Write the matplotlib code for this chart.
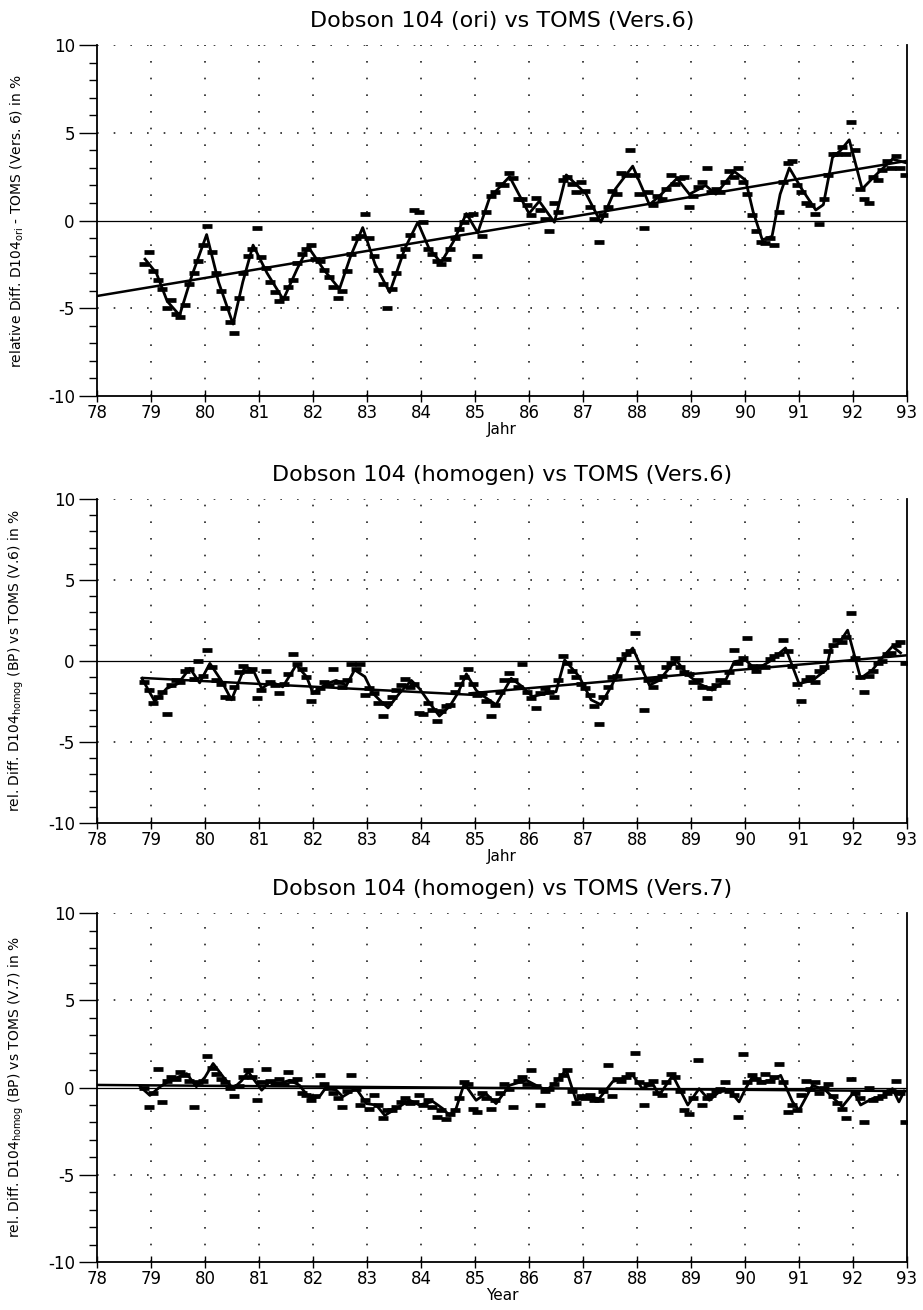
import numpy as np
import matplotlib
matplotlib.use("Agg")
import matplotlib.pyplot as plt
from matplotlib.ticker import MultipleLocator

plt.rcParams['font.family'] = ['DejaVu Sans']
plt.rcParams['axes.unicode_minus'] = False

# monthly sample times: Nov 1978 .. Dec 1992 (170 months)
n_months = 170
t0 = 78 + 10.5 / 12
months = t0 + np.arange(n_months) / 12.0

# ---- panel 1: Dobson 104 (ori) vs TOMS V6 ----
p1_dash = [
    -2.5, -1.8, -2.9, -3.4, -3.9, -5.0, -4.5, -5.3, -5.5, -4.8, -3.6, -3.0,
    -2.3, -1.4, -0.3, -1.8, -3.0, -4.0, -5.0, -5.8, -6.4, -4.4, -3.0, -2.0,
    -1.6, -0.4, -2.1, -2.7, -3.5, -4.1, -4.6, -4.4, -3.8, -3.4, -2.4, -1.9,
    -1.6, -1.4, -2.2, -2.3, -2.8, -3.2, -3.8, -4.4, -4.0, -2.9, -1.9, -1.0,
    -0.9, 0.4, -1.0, -2.0, -2.8, -3.6, -5.0, -3.9, -3.0, -2.0, -1.6, -0.8,
    0.6, 0.5, -0.1, -1.6, -1.9, -2.3, -2.5, -2.2, -1.6, -1.0, -0.5, -0.1,
    0.3, 0.4, -2.0, -0.9, 0.5, 1.4, 1.6, 2.1, 2.0, 2.7, 2.4, 1.2,
    1.2, 0.9, 0.3, 1.3, 0.6, 0.1, -0.6, 1.0, 0.5, 2.3, 2.5, 2.1,
    1.6, 2.2, 1.7, 0.8, 0.1, -1.2, 0.3, 0.8, 1.7, 1.5, 2.7, 2.6,
    4.0, 2.6, 1.5, -0.4, 1.6, 0.9, 1.4, 1.2, 1.8, 2.6, 2.1, 2.4,
    2.5, 0.8, 1.4, 1.9, 2.2, 3.0, 1.6, 1.8, 1.6, 2.2, 2.8, 2.5,
    3.0, 2.2, 1.5, 0.3, -0.6, -1.2, -1.3, -1.0, -1.4, 0.5, 2.2, 3.3,
    3.4, 2.0, 1.6, 1.0, 0.9, 0.4, -0.2, 1.2, 2.6, 3.8, 3.8, 4.2,
    3.8, 5.6, 4.0, 1.8, 1.2, 1.0, 2.5, 2.3, 2.9, 3.4, 3.0, 3.7,
    3.0, 2.6,
]
p1_smooth_x = [78.89, 79.1, 79.3, 79.53, 79.75, 80.03, 80.25, 80.52, 80.7, 80.89,
               81.15, 81.45, 81.7, 81.91, 82.2, 82.49, 82.7, 82.92, 83.15, 83.42,
               83.7, 83.94, 84.15, 84.37, 84.6, 84.84, 85.05, 85.27, 85.64, 86.0,
               86.19, 86.47, 86.69, 87.06, 87.33, 87.6, 87.92, 88.23, 88.45, 88.74,
               88.97, 89.27, 89.46, 89.8, 90.01, 90.15, 90.32, 90.5, 90.65, 90.82,
               91.05, 91.31, 91.45, 91.62, 91.77, 91.93, 92.17, 92.39, 92.73, 92.97]
p1_smooth_y = [-2.2, -3.0, -4.6, -5.4, -3.2, -0.8, -3.5, -5.9, -3.5, -1.4,
               -3.0, -4.5, -2.8, -1.5, -2.8, -3.9, -2.0, -0.4, -2.5, -4.1,
               -1.6, -0.1, -1.6, -2.4, -1.2, 0.4, -0.7, 1.3, 2.5, 0.4,
               1.1, -0.1, 2.6, 1.5, -0.1, 1.8, 3.1, 0.9, 1.5, 2.4,
               1.5, 2.0, 1.5, 2.8, 2.3, 0.5, -1.1, -0.9, 1.5, 3.0,
               1.8, 0.6, 0.9, 3.6, 4.0, 4.6, 1.8, 2.5, 3.5, 3.3]
p1_trend_x = [78.0, 93.0]
p1_trend_y = [-4.3, 3.4]

# ---- panel 2: Dobson 104 (homogen) vs TOMS V6 ----
p2_dash = [
    -1.3, -1.8, -2.6, -2.2, -1.9, -3.3, -1.5, -1.2, -1.3, -0.6, -0.5, -1.1,
    0.0, -0.9, 0.7, -0.4, -1.2, -1.4, -2.2, -2.3, -1.6, -0.7, -0.3, -0.6,
    -0.5, -2.3, -1.8, -0.6, -1.3, -1.5, -2.0, -1.4, -0.8, 0.4, -0.2, -0.5,
    -1.0, -2.5, -1.9, -1.7, -1.3, -1.5, -0.5, -1.3, -1.6, -1.2, -0.2, -0.5,
    -0.2, -2.1, -1.7, -2.0, -2.6, -3.4, -2.6, -2.2, -1.8, -1.5, -1.1, -1.6,
    -1.4, -3.2, -3.3, -2.6, -3.0, -3.7, -3.1, -2.8, -2.7, -1.9, -1.4, -1.0,
    -0.5, -1.4, -2.1, -2.0, -2.5, -3.4, -2.7, -1.9, -1.2, -0.75, -1.2, -1.6,
    -0.2, -1.9, -2.3, -2.9, -2.0, -1.7, -1.9, -2.2, -1.2, 0.3, -0.1, -0.6,
    -1.0, -1.4, -1.7, -2.1, -2.8, -3.9, -2.2, -1.6, -1.0, -0.9, 0.1, 0.4,
    0.6, 1.75, -0.4, -3.0, -1.2, -1.6, -1.1, -0.9, -0.4, -0.1, 0.2, -0.4,
    -0.7, -0.8, -1.3, -1.2, -1.6, -2.3, -1.7, -1.5, -1.2, -1.3, -0.7, 0.7,
    -0.1, 0.2, 1.4, -0.3, -0.6, -0.3, -0.4, 0.1, 0.3, 0.4, 1.3, 0.6,
    -0.3, -1.4, -2.45, -1.2, -1.0, -1.3, -0.6, -0.4, 0.6, 1.0, 1.3, 1.2,
    1.5, 2.96, 0.2, -1.0, -1.9, -0.9, -0.6, -0.1, 0.0, 0.4, 0.5, 1.0,
    1.2, -0.1,
]
p2_smooth_x = [78.83, 79.07, 79.29, 79.5, 79.72, 79.9, 80.09, 80.3, 80.49, 80.74,
               80.89, 81.05, 81.23, 81.44, 81.69, 81.88, 82.0, 82.25, 82.43, 82.62,
               82.77, 82.96, 83.11, 83.26, 83.39, 83.6, 83.82, 83.97, 84.16, 84.34,
               84.53, 84.68, 84.84, 85.02, 85.08, 85.39, 85.67, 85.88, 86.06, 86.32,
               86.5, 86.66, 86.93, 87.15, 87.33, 87.55, 87.73, 87.92, 88.1, 88.23,
               88.41, 88.72, 88.94, 89.15, 89.39, 89.64, 89.8, 90.01, 90.2, 90.45,
               90.75, 91.0, 91.25, 91.5, 91.59, 91.74, 91.9, 92.14, 92.36, 92.54,
               92.73, 92.88]
p2_smooth_y = [-1.07, -2.5, -1.7, -1.4, -0.45, -1.35, -0.15, -1.2, -2.4, -0.35,
               -0.55, -1.7, -1.3, -1.6, -0.25, -0.97, -2.0, -1.4, -1.2, -1.5,
               -0.55, -0.97, -2.0, -2.5, -2.9, -2.0, -1.2, -1.7, -2.6, -3.4,
               -2.8, -2.0, -0.8, -1.8, -2.0, -2.7, -1.07, -1.6, -2.2, -2.0,
               -1.9, 0.06, -0.97, -2.4, -2.7, -1.4, 0.06, 0.8, -0.55, -1.5,
               -1.2, 0.06, -0.86, -1.4, -1.8, -1.2, -0.04, 0.06, -0.55, -0.04,
               0.8, -1.4, -1.2, -0.55, 0.8, 1.1, 1.9, -1.07, -0.55, 0.2,
               0.9, 0.5]
p2_trend1_x = [78.85, 85.0]
p2_trend1_y = [-1.05, -2.1]
p2_trend2_x = [84.9, 93.0]
p2_trend2_y = [-2.0, 0.35]

# ---- panel 3: Dobson 104 (homogen) vs TOMS V7 ----
p3_dash = [
    0.0, -1.1, -0.3, 1.05, -0.8, 0.4, 0.6, 0.5, 0.9, 0.7, 0.4, -1.1,
    0.3, 0.4, 1.8, 1.1, 0.8, 0.5, 0.3, 0.0, -0.5, 0.1, 0.6, 1.0,
    0.6, -0.7, 0.3, 1.05, 0.4, 0.2, 0.5, 0.2, 0.9, 0.4, 0.5, -0.3,
    -0.4, -0.7, -0.5, 0.7, 0.2, 0.0, -0.3, -0.6, -1.1, -0.2, 0.7, -0.1,
    -1.0, -0.7, -1.2, -0.4, -1.0, -1.75, -1.3, -1.3, -1.1, -0.8, -0.6, -0.9,
    -0.8, -0.4, -1.0, -0.7, -1.1, -1.7, -1.3, -1.8, -1.5, -1.3, -0.6, 0.3,
    0.2, -1.2, -1.4, -0.3, -0.6, -1.2, -0.7, -0.3, 0.2, -0.1, -1.1, 0.4,
    0.6, 0.2, 1.0, 0.1, -1.0, -0.2, -0.1, 0.2, 0.5, 0.7, 1.0, -0.2,
    -0.9, -0.5, -0.6, -0.4, -0.7, -0.7, -0.2, 1.3, -0.5, 0.5, 0.4, 0.6,
    0.8, 2.0, 0.3, -1.0, 0.2, 0.4, -0.3, -0.4, 0.3, 0.8, 0.6, -0.2,
    -1.3, -1.5, -0.6, 1.6, -1.0, -0.6, -0.4, -0.2, -0.1, 0.3, -0.2, -0.4,
    -1.7, 1.9, 0.3, 0.7, 0.5, 0.3, 0.8, 0.4, 0.6, 1.35, 0.3, -1.4,
    -1.0, -1.3, -0.4, 0.4, -0.1, 0.3, -0.3, 0.0, 0.2, -0.5, -0.9, -1.2,
    -1.75, 0.5, -0.3, -0.6, -2.0, 0.0, -0.7, -0.6, -0.5, -0.3, -0.2, 0.4,
    -0.3, -2.0,
]
p3_smooth_x = [78.8, 78.98, 79.17, 79.35, 79.5, 79.66, 79.84, 80.0, 80.15, 80.34,
               80.52, 80.68, 80.8, 81.05, 81.2, 81.38, 81.57, 81.75, 81.94, 82.12,
               82.25, 82.43, 82.55, 82.8, 82.99, 83.17, 83.33, 83.54, 83.79, 83.97,
               84.22, 84.4, 84.53, 84.65, 84.8, 85.02, 85.2, 85.39, 85.64, 85.95,
               86.13, 86.32, 86.44, 86.69, 86.87, 87.06, 87.3, 87.55, 87.73, 87.92,
               88.1, 88.29, 88.41, 88.66, 88.94, 89.15, 89.34, 89.52, 89.71, 89.89,
               90.01, 90.14, 90.32, 90.51, 90.66, 90.88, 91.0, 91.25, 91.49, 91.8,
               92.02, 92.14, 92.36, 92.54, 92.73, 92.85, 92.95]
p3_smooth_y = [0.05, -0.45, 0.05, 0.4, 0.6, 0.8, 0.05, 0.6, 1.38, 0.6,
               -0.06, 0.4, 0.9, -0.15, 0.34, 0.23, 0.42, 0.13, -0.63, -0.52,
               0.05, -0.15, -0.52, -0.06, -0.92, -1.0, -1.6, -1.2, -0.73, -1.0,
               -0.8, -1.2, -1.6, -1.2, 0.23, -0.73, -0.34, -0.92, 0.13, 0.42,
               0.13, -0.15, 0.13, 1.0, -0.73, -0.52, -0.63, 0.34, 0.5, 0.7,
               -0.06, 0.23, -0.45, 0.7, -1.0, -0.06, -0.73, -0.25, -0.15, -0.82,
               -0.06, 0.63, 0.34, 0.42, 0.7, -0.82, -1.3, 0.13, -0.15, -1.1,
               -0.25, -1.0, -0.63, -0.53, -0.06, -0.82, -0.2]
p3_trend_x = [78.0, 93.0]
p3_trend_y = [0.15, -0.2]

titles = ["Dobson 104 (ori) vs TOMS (Vers.6)",
          "Dobson 104 (homogen) vs TOMS (Vers.6)",
          "Dobson 104 (homogen) vs TOMS (Vers.7)"]
ylabels = ["relative Diff. D104$_{\\rm ori}$ - TOMS (Vers. 6) in %",
           "rel. Diff. D104$_{\\rm homog}$ (BP) vs TOMS (V.6) in %",
           "rel. Diff. D104$_{\\rm homog}$ (BP) vs TOMS (V.7) in %"]
xlabels = ["Jahr", "Jahr", "Year"]
year_ticks = list(range(78, 94))

fig = plt.figure(figsize=(9.23, 13.10), dpi=100)
rects = [[0.1051, 0.6977, 0.8776, 0.2679],
         [0.1051, 0.3718, 0.8776, 0.2473],
         [0.1051, 0.0366, 0.8776, 0.2664]]
axes = [fig.add_axes(r) for r in rects]

panels = [
    (p1_dash, p1_smooth_x, p1_smooth_y, [(p1_trend_x, p1_trend_y)]),
    (p2_dash, p2_smooth_x, p2_smooth_y, [(p2_trend1_x, p2_trend1_y), (p2_trend2_x, p2_trend2_y)]),
    (p3_dash, p3_smooth_x, p3_smooth_y, [(p3_trend_x, p3_trend_y)]),
]

for ax, (dash, sx, sy, trends), title, ylab, xlab in zip(axes, panels, titles, ylabels, xlabels):
    ax.set_xlim(78, 93)
    ax.set_ylim(-10, 10)
    ax.set_xticks(year_ticks)
    ax.set_xticklabels([str(y) for y in year_ticks])
    ax.yaxis.set_major_locator(MultipleLocator(5))
    ax.yaxis.set_minor_locator(MultipleLocator(1))
    ax.tick_params(axis='x', direction='inout', length=9, width=1.0, labelsize=12, pad=1)
    ax.tick_params(axis='y', which='major', direction='out', length=13, width=1.0, labelsize=12, pad=3)
    ax.tick_params(axis='y', which='minor', direction='out', length=6, width=1.0)
    ax.spines['top'].set_visible(False)
    for s in ['left', 'bottom', 'right']:
        ax.spines[s].set_linewidth(1.3)

    # dotted grid at full years and at +-5, 10
    for yr in range(79, 93):
        ax.axvline(yr, color='#222222', lw=1.2, ls=(0, (1, 9)), zorder=1)
    for yv in [-5, 5, 10]:
        ax.axhline(yv, color='#222222', lw=1.2, ls=(0, (1, 9)), zorder=1)
    ax.axhline(0, color='black', lw=0.9, zorder=2)

    ax.plot(months, dash, ls='none', marker='_', ms=6.5, mew=3.4, color='black', zorder=3)
    ax.plot(sx, sy, color='black', lw=2.0, zorder=4)
    for tx, ty in trends:
        ax.plot(tx, ty, color='black', lw=1.8, zorder=4)

    ax.set_title(title, fontsize=16, pad=13)
    ax.set_xlabel(xlab, fontsize=11, labelpad=0)
    ax.set_ylabel(ylab, fontsize=10)
    ax.yaxis.set_label_coords(-0.088, 0.5)

fig.savefig("out.png", dpi=100)
